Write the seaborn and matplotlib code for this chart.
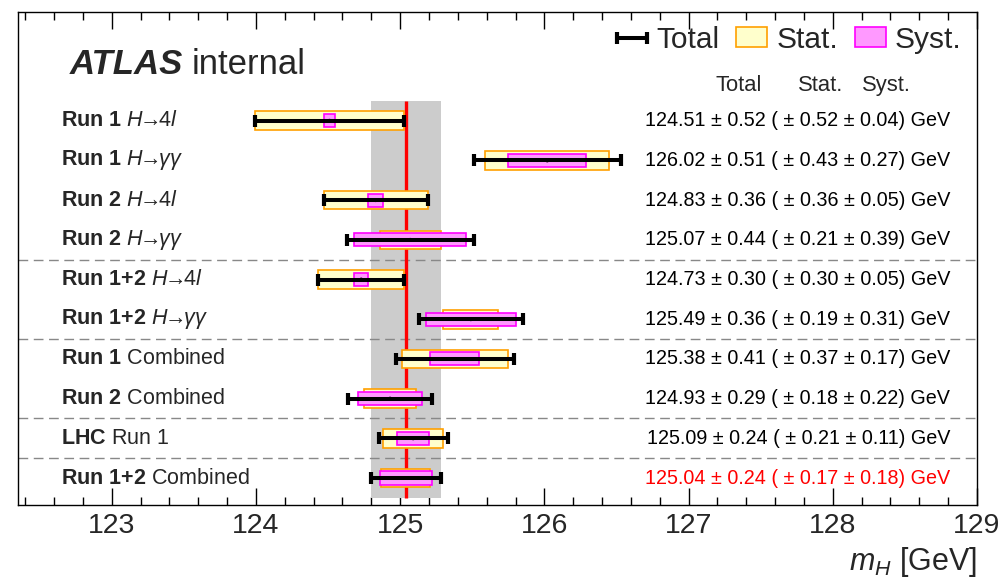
import numpy as np
import pandas as pd
import matplotlib
matplotlib.use("Agg")
import matplotlib.pyplot as plt
from matplotlib.ticker import MultipleLocator
from matplotlib.patches import Patch
import seaborn as sns

# ---------------- data ----------------
labels = [
    r"Run 1 $H\!\!\rightarrow\!\!4l$",
    r"Run 1 $H\!\!\rightarrow\!\!\gamma\gamma$",
    r"Run 2 $H\!\!\rightarrow\!\!4l$",
    r"Run 2 $H\!\!\rightarrow\!\!\gamma\gamma$",
    r"Run 1+2 $H\!\!\rightarrow\!\!4l$",
    r"Run 1+2 $H\!\!\rightarrow\!\!\gamma\gamma$",
    r"Run 1 $\mathrm{Combined}$",
    r"Run 2 $\mathrm{Combined}$",
    r"LHC $\mathrm{Run\ 1}$",
    r"Run 1+2 $\mathrm{Combined}$",
]
centers = [124.51, 126.02, 124.83, 125.07, 124.73, 125.49, 125.38, 124.93, 125.09, 125.04]
total_err = [0.52, 0.51, 0.36, 0.44, 0.30, 0.36, 0.41, 0.29, 0.24, 0.24]
stat_err = [0.52, 0.43, 0.36, 0.21, 0.30, 0.19, 0.37, 0.18, 0.21, 0.17]
syst_err = [0.04, 0.27, 0.05, 0.39, 0.05, 0.31, 0.17, 0.22, 0.11, 0.18]
group_ends = [3, 5, 7, 8]          # dashed separators drawn after these rows
reference_row = 9                  # the combined Run 1+2 result (band + red line)
xticks = [123, 124, 125, 126, 127, 128, 129]
col_headers = ["Total", "Stat.", "Syst."]

# ---------------- style ----------------
sns.set_style("ticks")
plt.rcParams["font.family"] = ["Liberation Sans", "DejaVu Sans"]
plt.rcParams["mathtext.fontset"] = "custom"
plt.rcParams["mathtext.rm"] = "Liberation Sans"
plt.rcParams["mathtext.it"] = "Liberation Sans:italic"
plt.rcParams["mathtext.bf"] = "Liberation Sans:bold"

STAT_FILL, STAT_EDGE = "#ffffcc", "#ffa000"
SYST_FILL, SYST_EDGE = "#ff99ff", "#ff00ff"

df = pd.DataFrame({"label": labels, "center": centers, "total": total_err,
                   "stat": stat_err, "syst": syst_err})
df["row"] = np.arange(len(df))

W, H = 1006, 582
fig = plt.figure(figsize=(W / 100, H / 100), dpi=100)
ax = fig.add_axes([18 / W, 1 - 505 / H, (977 - 18) / W, (505 - 12) / H])

n = len(df)
ref_c = df.loc[reference_row, "center"]
ref_t = df.loc[reference_row, "total"]

# grey band of the combined result
ax.fill_betweenx([-0.5, n - 0.5], ref_c - ref_t, ref_c + ref_t,
                 color="#cccccc", lw=0, zorder=1)
# separators
for g in group_ends:
    ax.axhline(g + 0.5, color="#888888", lw=1.0, ls=(0, (7, 4)), zorder=1.5)
# red line
ax.vlines(ref_c, -0.5, n - 0.5, color="red", lw=2.4, zorder=2)

# stat boxes
ax.barh(df["row"], 2 * df["stat"], left=df["center"] - df["stat"], height=0.47,
        color=STAT_FILL, edgecolor=STAT_EDGE, linewidth=1.2, zorder=3)
# syst boxes
ax.barh(df["row"], 2 * df["syst"], left=df["center"] - df["syst"], height=0.33,
        color=SYST_FILL, edgecolor=SYST_EDGE, linewidth=1.2, zorder=4)
# total error bars
eb = ax.errorbar(df["center"], df["row"], xerr=df["total"], fmt="none",
                 ecolor="black", elinewidth=2.9, capsize=4.2, capthick=3.0, zorder=5)
# central values
sns.scatterplot(data=df, x="center", y="row", ax=ax, color="black", s=8,
                edgecolor="none", legend=False, zorder=6)

# axes
ax.set_xlim(122.35, 129)
ax.set_ylim(9.68, -2.74)
ax.set_xticks(xticks)
ax.set_xticklabels([str(t) for t in xticks])
ax.xaxis.set_minor_locator(MultipleLocator(0.2))
ax.tick_params(axis="x", which="both", direction="in", top=True, bottom=True,
               width=1.0, color="black")
ax.tick_params(axis="x", which="major", length=12, labelsize=20.5, pad=6)
ax.tick_params(axis="x", which="minor", length=6)
ax.set_yticks([])
ax.set_ylabel("")
for sp in ax.spines.values():
    sp.set_visible(True)
    sp.set_linewidth(1.0)
    sp.set_color("black")
ax.set_xlabel(r"$m_H$ [GeV]", fontsize=22, loc="right", labelpad=4)

# row labels and values
ytr = ax.get_yaxis_transform()
for i, r in df.iterrows():
    ax.text(0.0448, r["row"], r["label"], transform=ytr, ha="left", va="center",
            fontsize=15.5, fontweight="bold")
    col = "red" if i == reference_row else "black"
    txt = f"{r['center']:.2f} ± {r['total']:.2f} ( ± {r['stat']:.2f} ± {r['syst']:.2f}) GeV"
    ax.text(0.972, r["row"], txt, transform=ytr, ha="right", va="center",
            fontsize=14.2, color=col)

# column headers
for name, xf in zip(col_headers, [0.751, 0.837, 0.905]):
    ax.text(xf, -0.9, name, transform=ytr, ha="center", va="center", fontsize=15.8)

# ATLAS internal
t1 = ax.text(0.054, 0.874, "ATLAS", transform=ax.transAxes, fontsize=25,
             fontweight="bold", fontstyle="italic", va="baseline", ha="left")
ax.annotate("internal", xy=(1, 0), xycoords=t1, xytext=(9, 0),
            textcoords="offset pixels", fontsize=25, va="bottom", ha="left")

# legend
handles = [eb, Patch(facecolor=STAT_FILL, edgecolor=STAT_EDGE, lw=1.2),
           Patch(facecolor=SYST_FILL, edgecolor=SYST_EDGE, lw=1.2)]
ax.legend(handles, ["Total", "Stat.", "Syst."], ncol=3, loc="upper right",
          bbox_to_anchor=(0.984, 0.972), frameon=False, fontsize=21.5,
          handlelength=1.05, handleheight=0.65, handletextpad=0.3,
          columnspacing=0.55, borderpad=0, borderaxespad=0)

fig.savefig("out.png", dpi=100)
